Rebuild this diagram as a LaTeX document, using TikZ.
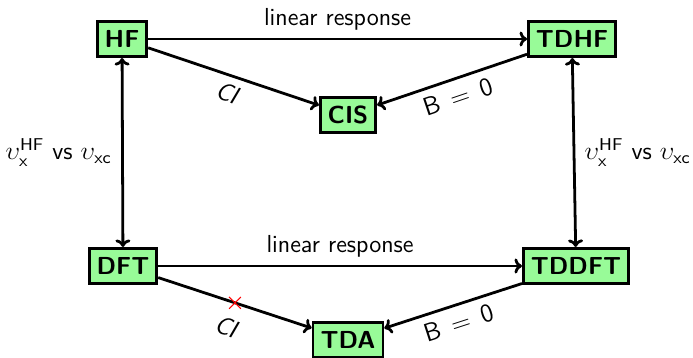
\documentclass[tikz,border=0pt]{standalone}
\usepackage{xcolor}
\usetikzlibrary{arrows.meta, shapes.misc}
\renewcommand{\familydefault}{\sfdefault}
\definecolor{boxgreen}{RGB}{152,251,152}

\begin{document}
\begin{tikzpicture}[x=0.467pt, y=-0.467pt, font=\fontsize{11.5}{14}\selectfont,
  method/.style={draw, fill=boxgreen, line width=1.3pt, font=\fontsize{11.5}{14}\selectfont\bfseries, inner xsep=3.5pt, minimum height=16.5pt},
  link/.style={line width=1.3pt, -{To[length=3.5pt,width=7pt]}},
  both/.style={{To[length=3.5pt,width=7pt]}-{To[length=3.5pt,width=7pt]}}]
\useasboundingbox (0,0) rectangle (693,358);

% methods
\node[method] (HF) at (122,39) {HF};
\node[method] (TDHF) at (572,39) {TDHF};
\node[method] (CIS) at (348,115) {CIS};
\node[method] (DFT) at (123,266) {DFT};
\node[method] (TDDFT) at (576,266) {TDDFT};
\node[method] (TDA) at (348,340) {TDA};

% top triangle
\draw[link] (HF) -- node[above] (lr1) {linear response} (TDHF);
\draw[link] (HF) -- node[sloped, below] (ci1) {\textsl{CI}} (CIS);
\draw[link] (TDHF) -- node[sloped, below] (b1) {$\mathsf{B}\,=\,\mathsf{0}$} (CIS);

% bottom triangle
\draw[link] (DFT) -- node[above] (lr2) {linear response} (TDDFT);
\draw[link] (DFT) -- node[cross out, draw=red, line width=0.5pt, minimum size=5pt, inner sep=0pt] (no) {}
  node[sloped, below=4pt] (ci2) {\textsl{CI}} (TDA);
\draw[link] (TDDFT) -- node[sloped, below] (b2) {$\mathsf{B}\,=\,\mathsf{0}$} (TDA);

% exchange potentials
\draw[link, both] (HF) -- node[left=1pt] (v1) {$\upsilon_{\mathsf{x}}^{\mathsf{HF}}$ vs $\upsilon_{\mathsf{xc}}$} (DFT);
\draw[link, both] (TDHF) -- node[right=1pt] (v2) {$\upsilon_{\mathsf{x}}^{\mathsf{HF}}$ vs $\upsilon_{\mathsf{xc}}$} (TDDFT);
\end{tikzpicture}
\end{document}
